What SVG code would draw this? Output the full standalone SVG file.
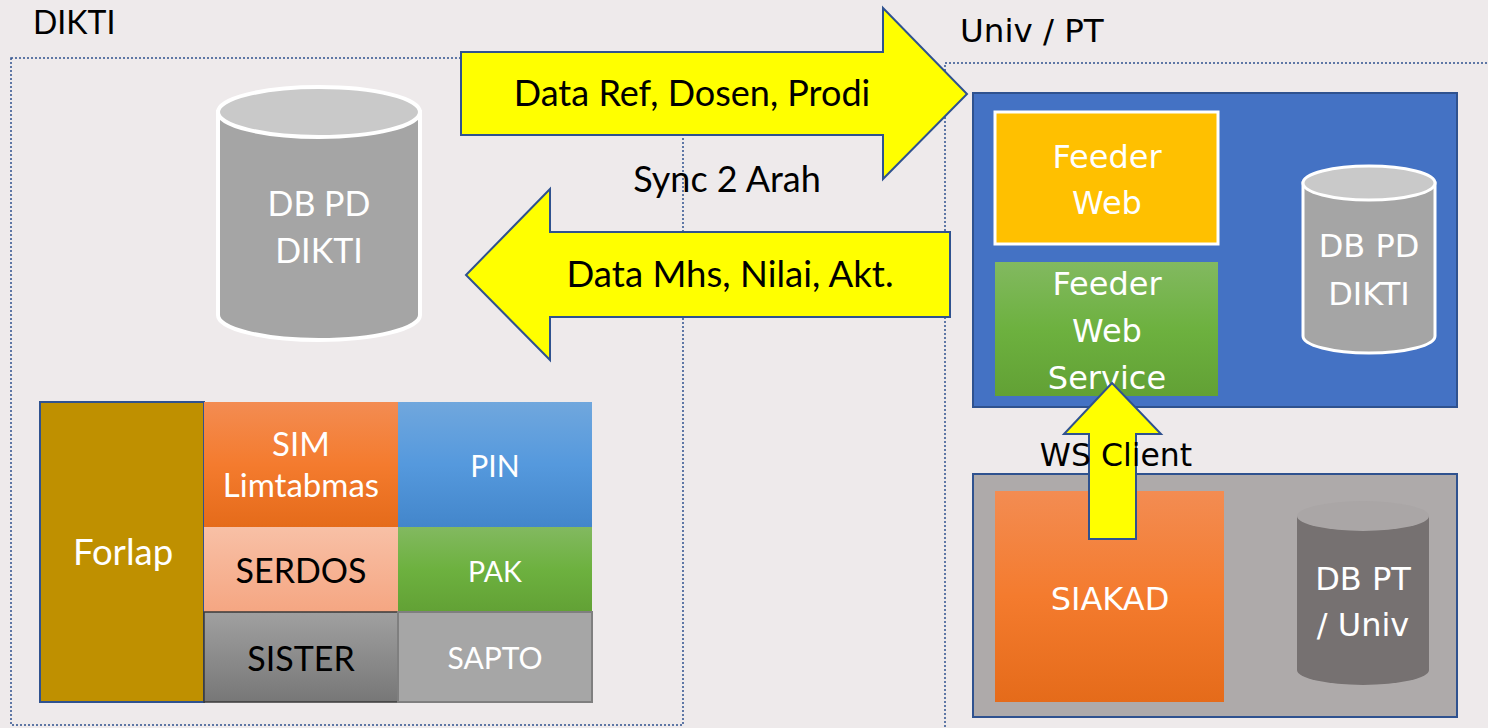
<svg xmlns="http://www.w3.org/2000/svg" width="1488" height="728" viewBox="0 0 1488 728">
<style>
.lbl{font-family:Lato,"Open Sans",sans-serif;font-size:34px;text-anchor:middle}
.big{font-size:36px}
.rt{font-family:"DejaVu Sans",Verdana,sans-serif;font-size:32px;text-anchor:middle}
.w{fill:#ffffff}
.k{fill:#000000}
.zone{fill:none;stroke:#2f528f;stroke-width:1.5;stroke-dasharray:2 2}
.arrow{fill:#ffff00;stroke:#2f528f;stroke-width:2;stroke-linejoin:miter}
</style>
<defs>
<linearGradient id="gOr" x1="0" y1="0" x2="0" y2="1"><stop offset="0" stop-color="#f38c52"/><stop offset="0.5" stop-color="#f47b2e"/><stop offset="1" stop-color="#e56b1a"/></linearGradient>
<linearGradient id="gBl" x1="0" y1="0" x2="0" y2="1"><stop offset="0" stop-color="#70a7dd"/><stop offset="0.5" stop-color="#5599dd"/><stop offset="1" stop-color="#4386cb"/></linearGradient>
<linearGradient id="gSa" x1="0" y1="0" x2="0" y2="1"><stop offset="0" stop-color="#f8c0a6"/><stop offset="1" stop-color="#f5a682"/></linearGradient>
<linearGradient id="gGr" x1="0" y1="0" x2="0" y2="1"><stop offset="0" stop-color="#82b960"/><stop offset="0.5" stop-color="#6db13f"/><stop offset="1" stop-color="#62a135"/></linearGradient>
<linearGradient id="gGy" x1="0" y1="0" x2="0" y2="1"><stop offset="0" stop-color="#a0a0a0"/><stop offset="1" stop-color="#777777"/></linearGradient>
</defs>
<rect x="0" y="0" width="1488" height="728" fill="#eeeaeb"/>

<g id="zone-dikti">
<rect class="zone" x="11" y="58" width="672" height="667"/>
<text x="33" y="34" font-family="Lato,'Open Sans',sans-serif" font-size="32" fill="#000">DIKTI</text>
</g>
<g id="zone-univ">
<rect class="zone" x="945" y="63" width="560" height="680"/>
<text x="960" y="42" font-family="'DejaVu Sans',Verdana,sans-serif" font-size="32.5" fill="#000">Univ / PT</text>
</g>

<g id="db-dikti">
<path d="M218,112 V315 A101,25 0 0 0 420,315 V112 Z" fill="#a5a5a5" stroke="#ffffff" stroke-width="4"/>
<ellipse cx="319" cy="112" rx="101" ry="25" fill="#c9c9c9" stroke="#ffffff" stroke-width="4"/>
<text class="lbl w" x="319" y="216">DB PD</text>
<text class="lbl w" x="319" y="263">DIKTI</text>
</g>

<g id="forlap">
<rect x="40" y="402" width="164" height="300" fill="#bf9000" stroke="#2f528f" stroke-width="2"/>
<text class="lbl w" x="123" y="565" style="font-size:36.5px">Forlap</text>
</g>
<g id="sim">
<rect x="204" y="402" width="194" height="125" fill="url(#gOr)"/>
<text class="lbl w" x="301" y="456" style="font-size:33px">SIM</text>
<text class="lbl w" x="301" y="497" style="font-size:33px">Limtabmas</text>
</g>
<g id="pin">
<rect x="398" y="402" width="194" height="125" fill="url(#gBl)"/>
<text class="lbl w" x="495" y="477" style="font-size:30px">PIN</text>
</g>
<g id="serdos">
<rect x="204" y="527" width="194" height="85" fill="url(#gSa)"/>
<text class="lbl k" x="301" y="583">SERDOS</text>
</g>
<g id="pak">
<rect x="398" y="527" width="194" height="85" fill="url(#gGr)"/>
<text class="lbl w" x="495" y="582" style="font-size:28.5px">PAK</text>
</g>
<g id="sister">
<rect x="204" y="612" width="194" height="90" fill="url(#gGy)" stroke="#3a3a3a" stroke-width="1.5"/>
<text class="lbl k" x="301" y="671">SISTER</text>
</g>
<g id="sapto">
<rect x="398" y="612" width="194" height="90" fill="#a6a6a6" stroke="#7f7f7f" stroke-width="2"/>
<text class="lbl w" x="495" y="669" style="font-size:30px">SAPTO</text>
</g>

<g id="feeder-box">
<rect x="973" y="93" width="484" height="314" fill="#4472c4" stroke="#2f528f" stroke-width="2"/>
</g>
<g id="feeder-web">
<rect x="995" y="112" width="223" height="132" fill="#ffc000" stroke="#ffffff" stroke-width="3"/>
<text class="rt w" x="1107" y="168">Feeder</text>
<text class="rt w" x="1107" y="214">Web</text>
</g>
<g id="feeder-ws">
<rect x="995" y="262" width="223" height="134" fill="url(#gGr)"/>
<text class="rt w" x="1107" y="295">Feeder</text>
<text class="rt w" x="1107" y="342">Web</text>
<text class="rt w" x="1107" y="389">Service</text>
</g>
<g id="db-feeder">
<path d="M1303,183 V336 A66,17 0 0 0 1435,336 V183 Z" fill="#a5a5a5" stroke="#ffffff" stroke-width="3"/>
<ellipse cx="1369" cy="183" rx="66" ry="17" fill="#c9c9c9" stroke="#ffffff" stroke-width="3"/>
<text class="rt w" x="1369" y="257">DB PD</text>
<text class="rt w" x="1369" y="305">DIKTI</text>
</g>

<g id="pt-box">
<rect x="973" y="474" width="484" height="243" fill="#aeaaaa" stroke="#2f528f" stroke-width="2"/>
</g>
<g id="siakad">
<rect x="995" y="491" width="229" height="211" fill="url(#gOr)"/>
<text class="rt w" x="1110" y="610">SIAKAD</text>
</g>
<g id="db-pt">
<path d="M1297,516 V670 A66,15 0 0 0 1429,670 V516 Z" fill="#767171"/>
<ellipse cx="1363" cy="516" rx="66" ry="15" fill="#aaa6a6"/>
<text class="rt w" x="1363" y="590">DB PT</text>
<text class="rt w" x="1363" y="636">/ Univ</text>
</g>

<g id="connectors">
<g id="arrow-down-sync">
<path class="arrow" d="M461,52 H883 V8 L967,94 L883,179 V135 H461 Z"/>
<text class="lbl big k" x="692" y="106">Data Ref, Dosen, Prodi</text>
</g>
<g id="arrow-up-sync">
<path class="arrow" d="M950,232 H550 V189 L466,275 L550,360 V317 H950 Z"/>
<text class="lbl k" x="730" y="287" style="font-size:36.6px">Data Mhs, Nilai, Akt.</text>
</g>
<text class="lbl big k" x="727" y="192">Sync 2 Arah</text>
<g id="arrow-ws">
<path class="arrow" d="M1112,383 L1161,434 H1136 V539 H1089 V434 H1064 Z"/>
</g>
<text x="1116" y="466" font-family="'DejaVu Sans',Verdana,sans-serif" font-size="31.5" text-anchor="middle" fill="#000">WS Client</text>
</g>
</svg>
